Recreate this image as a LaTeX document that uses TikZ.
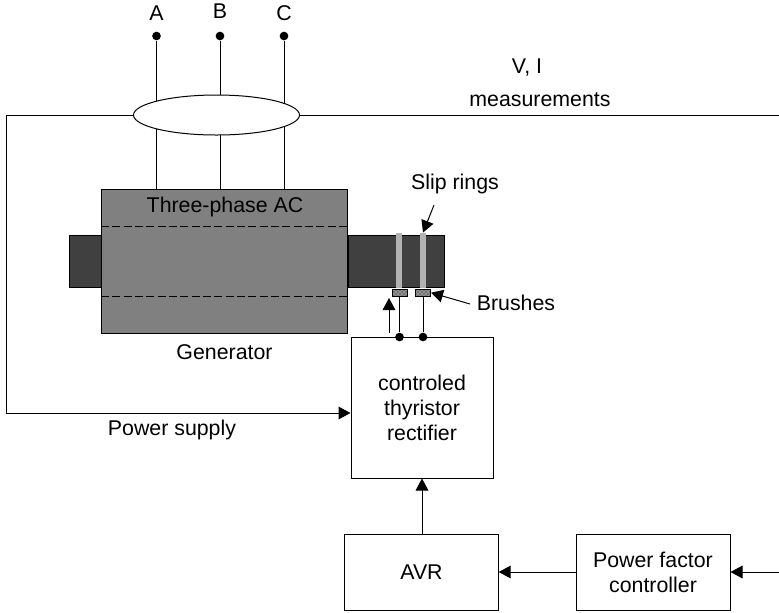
\documentclass[tikz,border=0pt]{standalone}
\usepackage{fontspec}
\setmainfont{Liberation Sans}
\usetikzlibrary{shapes.geometric, arrows.meta, positioning, patterns}

\begin{document}
\begin{tikzpicture}[x=0.75pt,y=-0.75pt,
  box/.style={rectangle,draw=black,fill=white,line width=0.75pt,align=center,font=\fontsize{16}{18.75}\selectfont},
  lbl/.style={inner sep=0pt,align=center,font=\fontsize{16}{18.75}\selectfont},
  shaft/.style={rectangle,draw=black,fill=black!75,line width=0.6pt,minimum height=39pt},
  ring/.style={rectangle,fill=black!30,inner sep=0pt,minimum width=4.5pt,minimum height=41.5pt},
  brush/.style={rectangle,draw=black,line width=0.5pt,preaction={fill=black!55},pattern=crosshatch dots,pattern color=white,inner sep=0pt,minimum width=11.5pt,minimum height=5pt},
  dot/.style={circle,fill=black,inner sep=0pt,minimum size=6.5pt},
  wire/.style={line width=0.75pt},
  arr/.style={-{Triangle[length=9pt,width=9.5pt]},line width=0.75pt}
]
  \useasboundingbox (0,0) rectangle (779,612);
  % free ends and corners
  \coordinate (feedR) at (779,115);
  \coordinate (corTop) at (6,115);
  \coordinate (corBot) at (6,413);
  \coordinate (inPF) at (779,572);
  \coordinate (dashL1) at (101,226);
  \coordinate (dashR1) at (348,226);
  \coordinate (dashL2) at (101,296);
  \coordinate (dashR2) at (348,296);
  \coordinate (upS) at (389,333);
  \coordinate (upE) at (389,298);
  \coordinate (ringS) at (434,205);
  \coordinate (brushS) at (470,304);

  % machine
  \node[shaft,minimum width=24pt] (shaftL) at (85,261) {};
  \node[shaft,minimum width=72pt] (shaftR) at (396,261) {};
  \node[rectangle,draw=black,fill=black!50,line width=0.6pt,minimum width=185pt,minimum height=108pt] (gen) at (224.5,261) {};
  \node[lbl] (genTxt) at (225,207) {Three-phase AC};
  \node[ring] (ring1) at (399,260.5) {};
  \node[ring] (ring2) at (423,260.5) {};
  \node[brush] (brush1) at (399.5,292.7) {};
  \node[brush] (brush2) at (423,292.7) {};
  \draw[wire,dash pattern=on 6pt off 2.5pt] (dashL1)--(dashR1);
  \draw[wire,dash pattern=on 6pt off 2.5pt] (dashL2)--(dashR2);

  % boxes
  \node[box,minimum width=106.5pt,minimum height=105.75pt] (rect) at (422,407.5) {controled\\thyristor\\rectifier};
  \node[box,minimum width=115pt,minimum height=57pt] (avr) at (421.5,572) {AVR};
  \node[box,minimum width=115.5pt,minimum height=57pt] (pfc) at (653,572) {Power factor\\controller};

  % phases
  \node[dot] (dotA) at (156.5,36) {};
  \node[dot] (dotB) at (220,36) {};
  \node[dot] (dotC) at (284,36) {};
  \draw[wire](dotA)--(dotA|-gen.north);
  \draw[wire](dotB)--(dotB|-gen.north);
  \draw[wire](dotC)--(dotC|-gen.north);
  \node[ellipse,draw=black,fill=white,line width=0.75pt,inner sep=0pt,minimum width=124.5pt,minimum height=30pt] (ct) at (216.5,115) {};
  \node[lbl] (lblA) at (156.5,13) {A};
  \node[lbl] (lblB) at (220,11) {B};
  \node[lbl] (lblC) at (284,13) {C};

  % measurement and supply
  \draw[wire](ct.east)--(feedR);
  \draw[arr](ct.west)--(corTop)--(corBot)--(corBot-|rect.west);
  \node[lbl] (lblVI) at (527,68) {V, I};
  \node[lbl] (lblMeas) at (540,100) {measurements};
  \node[lbl] (lblPower) at (172,430) {Power supply};
  \node[lbl] (lblGen) at (224.5,352) {Generator};

  % rotor feed
  \node[dot] (dot1) at (399.5,337) {};
  \node[dot] (dot2) at (423,337) {};
  \draw[wire](brush1)--(dot1);
  \draw[wire](brush2)--(dot2);
  \draw[arr](upS)--(upE);

  % labels with arrows
  \node[lbl] (lblSlip) at (455,184) {Slip rings};
  \node[lbl] (lblBrush) at (516,303) {Brushes};
  \draw[arr](ringS)--(ring2.north);
  \draw[arr](brushS)--(brush2.east);

  % control chain
  \draw[arr](avr.north-|rect.south)--(rect.south);
  \draw[arr](pfc.west)--(avr.east);
  \draw[arr](inPF)--(inPF-|pfc.east);
\end{tikzpicture}
\end{document}
